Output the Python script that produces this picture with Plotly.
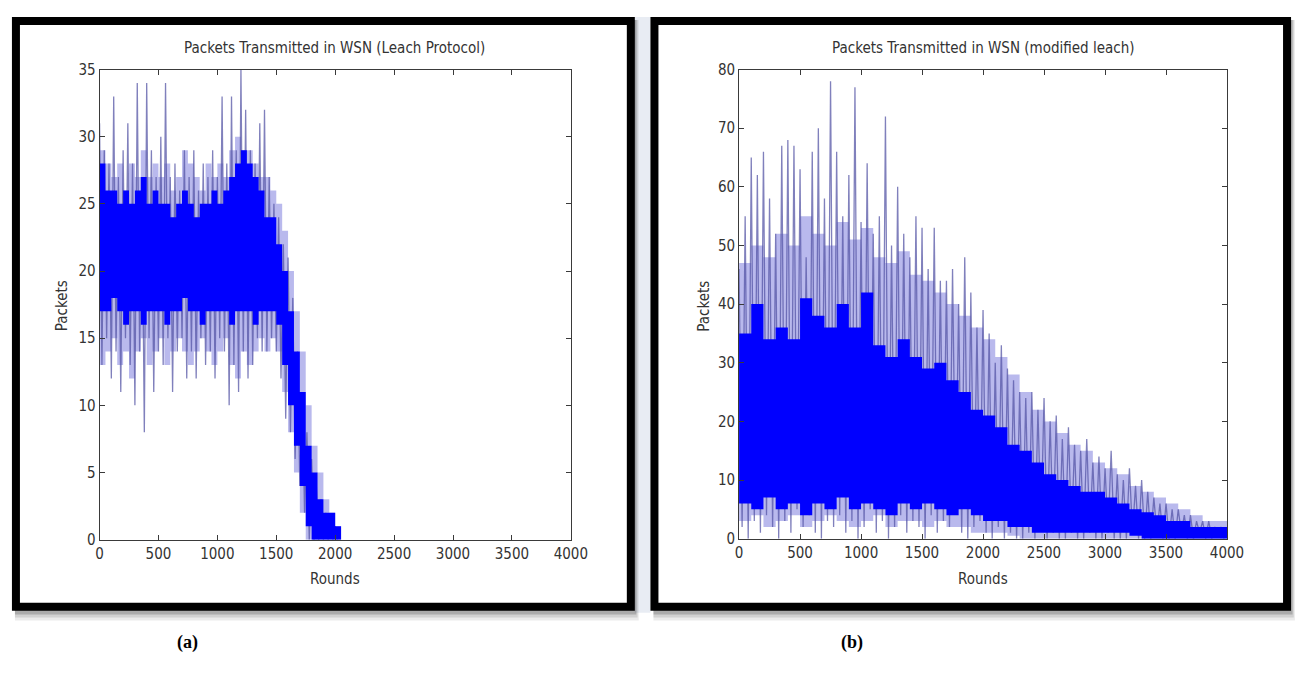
import plotly.graph_objects as go

# The page keeps the browser's default 8px body margin, so the figure is
# 16px smaller than the window and all layout positions below are given in
# window pixels and shifted by that margin.
PAGE_W, PAGE_H = 1315, 689
MARGIN = 8
W, H = PAGE_W - 2 * MARGIN, PAGE_H - 2 * MARGIN

# ---------------- Panel (a): Leach protocol ----------------
core_rounds_a = list(range(0, 2051, 50))
core_upper_a = [28, 26, 26, 25, 26, 25, 26, 27, 25, 26,
                25, 25, 24, 25, 26, 25, 24, 25, 25, 26,
                25, 26, 27, 28, 29, 28, 27, 26, 24, 24,
                22, 20, 17, 14, 11, 7, 5, 3, 2, 2,
                1, 1]
core_lower_a = [17, 17, 18, 17, 16, 17, 17, 16, 17, 17,
                17, 16, 17, 17, 18, 17, 17, 16, 17, 17,
                17, 17, 16, 17, 17, 17, 16, 17, 17, 17,
                16, 13, 10, 7, 4, 1, 0, 0, 0, 0,
                0, 0]
mid_rounds_a = list(range(0, 2051, 50))
mid_upper_a = [29, 28, 27, 28, 26, 28, 27, 29, 27, 28,
               27, 28, 26, 27, 29, 28, 27, 26, 28, 27,
               28, 27, 29, 30, 29, 29, 28, 27, 27, 26,
               25, 23, 20, 17, 14, 10, 7, 5, 3, 2,
               1, 1]
mid_lower_a = [13, 14, 15, 13, 14, 12, 14, 15, 13, 14,
               15, 13, 14, 15, 14, 13, 14, 15, 14, 13,
               14, 15, 13, 12, 14, 13, 14, 15, 14, 15,
               14, 11, 8, 5, 2, 0, 0, 0, 0, 0,
               0, 0]
peak_rounds_a = list(range(0, 2001, 40))
peak_packets_a = [31, 29, 28, 33, 27, 29, 31, 28, 34, 27,
                  34, 29, 27, 30, 34, 27, 28, 26, 29, 27,
                  29, 26, 28, 27, 29, 27, 33, 28, 33, 29,
                  35, 32, 29, 28, 31, 32, 27, 25, 24, 22,
                  21, 18, 14, 11, 8, 6, 4, 3, 2, 1, 1]
dip_rounds_a = list(range(20, 2021, 40))
dip_packets_a = [13, 15, 12, 14, 11, 15, 13, 10, 14, 8,
                 15, 11, 14, 13, 15, 11, 14, 15, 12, 14,
                 12, 15, 13, 14, 12, 15, 14, 10, 13, 11,
                 14, 12, 13, 15, 14, 14, 15, 14, 12, 9,
                 8, 6, 4, 2, 0, 0, 0, 0, 0, 0, 0]

# ---------------- Panel (b): modified leach ----------------
core_rounds_b = list(range(0, 4001, 100))
core_upper_b = [35, 40, 34, 36, 34, 41, 38, 36, 40, 36,
                42, 33, 31, 34, 31, 29, 30, 27, 25, 22,
                21, 19, 16, 15, 13, 11, 10, 9, 8, 8,
                7, 6, 5, 4.5, 4, 3, 3, 2, 2, 2,
                2]
core_lower_b = [6, 5, 7, 5, 6, 4, 6, 5, 7, 5,
                6, 5, 4, 6, 5, 6, 5, 4, 5, 4,
                3, 3, 2, 2, 1, 1, 1, 1, 1, 1,
                1, 1, 0.5, 0, 0, 0, 0, 0, 0, 0,
                0]
mid_rounds_b = list(range(0, 4001, 100))
mid_upper_b = [47, 50, 48, 52, 50, 55, 52, 50, 54, 51,
               53, 48, 47, 49, 45, 44, 42, 40, 38, 36,
               34, 31, 28, 25, 22, 20, 18, 16, 15, 13,
               12, 11, 9, 8, 7, 6, 5, 4, 3, 3,
               2]
mid_lower_b = [3, 4, 2, 3, 4, 2, 3, 4, 3, 2,
               3, 4, 2, 3, 3, 2, 3, 2, 2, 1,
               1, 1, 0.5, 0, 0, 0, 0, 0, 0, 0,
               0, 0, 0, 0, 0, 0, 0, 0, 0, 0,
               0]
peak_rounds_b = list(range(0, 4001, 50))
peak_packets_b = [46, 55, 65, 62, 66, 58, 52, 67, 68, 67,
                  63, 48, 66, 70, 58, 78, 66, 55, 62, 77,
                  54, 64, 52, 55, 72, 50, 60, 52, 48, 55,
                  53, 46, 53, 44, 44, 46, 40, 48, 42, 36,
                  39, 35, 30, 33, 29, 27, 25, 24, 25, 22,
                  24, 20, 21, 17, 19, 16, 15, 17, 13, 14,
                  12, 15, 11, 10, 12, 9, 10, 8, 7, 6,
                  6, 5, 5, 4, 4, 3, 3, 3, 2, 2,
                  2]
dip_rounds_b = list(range(25, 4000, 50))
dip_packets_b = [2, 0, 3, 1, 4, 2, 0, 3, 1, 5,
                 2, 4, 1, 0, 3, 2, 4, 1, 3, 0,
                 2, 5, 1, 3, 0, 2, 4, 1, 3, 2,
                 0, 4, 1, 3, 2, 5, 1, 0, 2, 3,
                 1, 0, 2, 0, 1, 0, 0, 1, 0, 2,
                 0, 1, 0, 0, 1, 0, 0, 1, 0, 0,
                 1, 0, 0, 0, 1, 0, 0, 0, 1, 0,
                 0, 0, 1, 0, 0, 1, 0, 0, 1, 0]

titles = ["Packets Transmitted in WSN (Leach Protocol)",
          "Packets Transmitted in WSN (modified leach)"]
x_ticks = [0, 500, 1000, 1500, 2000, 2500, 3000, 3500, 4000]
y_ticks_a = [0, 5, 10, 15, 20, 25, 30, 35]
y_ticks_b = [0, 10, 20, 30, 40, 50, 60, 70, 80]
panel_labels = ["(a)", "(b)"]

BLUE = "#0000ff"
MID = "rgba(60,60,205,0.36)"
SPIKE = "rgba(85,85,165,0.75)"
AXC = "#3a3a3a"
FONT = "Liberation Sans Narrow, DejaVu Sans Condensed, Arial Narrow, sans-serif"


def fx(x):
    return (x - MARGIN) / W


def fy(y):
    return 1 - (y - MARGIN) / H


def zigzag(r1, v1, r2, v2):
    xs, ys = [], []
    for a, b, c, d in zip(r1, v1, r2, v2):
        xs += [a, c]
        ys += [b, d]
    return xs, ys


fig = go.Figure()

panels = [
    dict(xa="x", ya="y", core=(core_rounds_a, core_upper_a, core_lower_a),
         mid=(mid_rounds_a, mid_upper_a, mid_lower_a),
         spk=zigzag(peak_rounds_a, peak_packets_a, dip_rounds_a, dip_packets_a)),
    dict(xa="x2", ya="y2", core=(core_rounds_b, core_upper_b, core_lower_b),
         mid=(mid_rounds_b, mid_upper_b, mid_lower_b),
         spk=zigzag(peak_rounds_b, peak_packets_b, dip_rounds_b, dip_packets_b)),
]

for p in panels:
    mr, mu, ml = p["mid"]
    fig.add_trace(go.Scatter(x=mr, y=ml, mode="lines", line=dict(width=0, shape="hv"),
                             xaxis=p["xa"], yaxis=p["ya"], hoverinfo="skip", showlegend=False))
    fig.add_trace(go.Scatter(x=mr, y=mu, mode="lines", line=dict(width=0, shape="hv"),
                             fill="tonexty", fillcolor=MID,
                             xaxis=p["xa"], yaxis=p["ya"], hoverinfo="skip", showlegend=False))
    sx, sy = p["spk"]
    fig.add_trace(go.Scatter(x=sx, y=sy, mode="lines", line=dict(width=1.3, color=SPIKE),
                             xaxis=p["xa"], yaxis=p["ya"], hoverinfo="skip", showlegend=False))
    cr, cu, cl = p["core"]
    fig.add_trace(go.Scatter(x=cr, y=cl, mode="lines", line=dict(width=0, shape="hv"),
                             xaxis=p["xa"], yaxis=p["ya"], hoverinfo="skip", showlegend=False))
    fig.add_trace(go.Scatter(x=cr, y=cu, mode="lines", line=dict(width=0, shape="hv"),
                             fill="tonexty", fillcolor=BLUE,
                             xaxis=p["xa"], yaxis=p["ya"], hoverinfo="skip", showlegend=False))

axis_common = dict(showline=True, mirror="ticks", linecolor=AXC, linewidth=1,
                   ticks="inside", ticklen=5, tickcolor=AXC, showgrid=False,
                   zeroline=False, tickfont=dict(family=FONT, size=15, color="#333"))

fig.update_layout(
    width=W, height=H, autosize=False, margin=dict(l=0, r=0, t=0, b=0, pad=0),
    paper_bgcolor="white", plot_bgcolor="rgba(0,0,0,0)",
    xaxis=dict(domain=[fx(97), fx(576)], range=[0, 4000], tickvals=x_ticks,
               anchor="y", **axis_common),
    yaxis=dict(domain=[fy(545), fy(62)], range=[0, 35], tickvals=y_ticks_a,
               anchor="x", **axis_common),
    xaxis2=dict(domain=[fx(747), fx(1243)], range=[0, 4000], tickvals=x_ticks,
                anchor="y2", **axis_common),
    yaxis2=dict(domain=[fy(544), fy(62)], range=[0, 80], tickvals=y_ticks_b,
                anchor="x2", **axis_common),
)

shapes = []
# soft tint in the gap between the frames
shapes.append(dict(type="rect", xref="paper", yref="paper", x0=fx(641), x1=fx(657),
                   y0=fy(620), y1=fy(MARGIN), fillcolor="rgba(190,200,222,0.35)",
                   line=dict(width=0), layer="below"))
frames = [(8, 641, 8, 618), (657, 1308, 8, 618)]
for (x0, x1, y0, y1) in frames:
    for k, a in [(10, 0.10), (7, 0.15), (4, 0.25)]:
        shapes.append(dict(type="rect", xref="paper", yref="paper",
                           x0=fx(x0 + 3), x1=fx(x1 + k * 0.4), y0=fy(y1 + k), y1=fy(y0 + 3),
                           fillcolor="rgba(60,60,60,%.2f)" % a, line=dict(width=0), layer="below"))
    shapes.append(dict(type="rect", xref="paper", yref="paper",
                       x0=fx(x0 + 4), x1=fx(x1 - 4), y0=fy(y1 - 4), y1=fy(y0 + 4),
                       fillcolor="white", line=dict(color="black", width=8), layer="below"))
fig.update_layout(shapes=shapes)

ann = []
tfont = dict(family=FONT, size=15, color="#333")
ann.append(dict(text=titles[0], x=fx(336), y=fy(40), xref="paper", yref="paper",
                showarrow=False, font=tfont, xanchor="center", yanchor="middle"))
ann.append(dict(text=titles[1], x=fx(995), y=fy(40), xref="paper", yref="paper",
                showarrow=False, font=tfont, xanchor="center", yanchor="middle"))
for cx in (336, 995):
    ann.append(dict(text="Rounds", x=fx(cx), y=fy(585), xref="paper", yref="paper",
                    showarrow=False, font=tfont, xanchor="center", yanchor="middle"))
for cx in (59, 711):
    ann.append(dict(text="Packets", x=fx(cx), y=fy(305), xref="paper", yref="paper",
                    showarrow=False, font=tfont, textangle=-90,
                    xanchor="center", yanchor="middle"))
for lbl, cx in zip(panel_labels, (186, 862)):
    ann.append(dict(text="<b>%s</b>" % lbl, x=fx(cx), y=fy(651), xref="paper", yref="paper",
                    showarrow=False, font=dict(family="Liberation Serif, Times New Roman, serif",
                                               size=18, color="black"),
                    xanchor="center", yanchor="middle"))
fig.update_layout(annotations=ann)

fig.write_html("out.html", config={"displayModeBar": False})
